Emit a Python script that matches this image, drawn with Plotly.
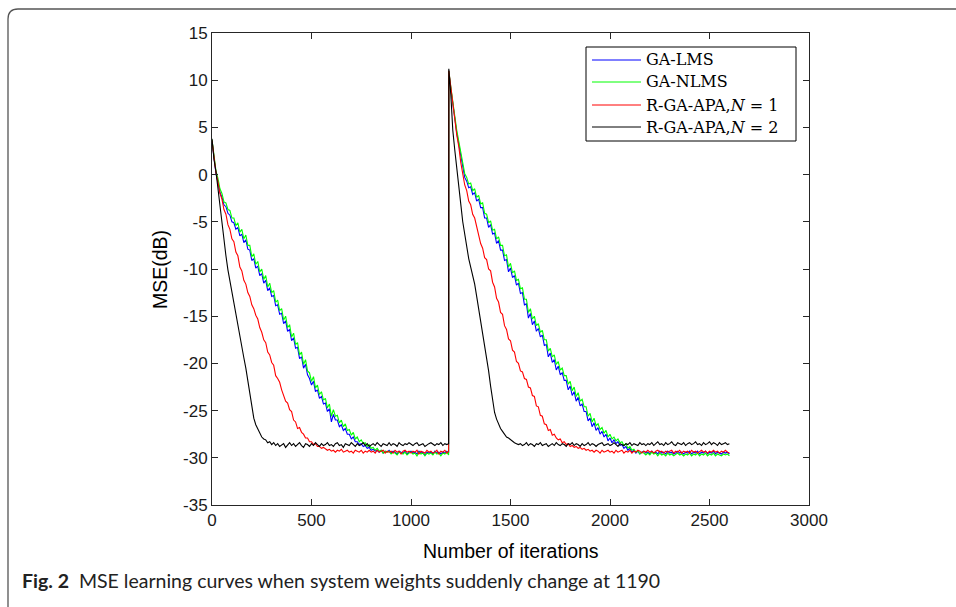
import plotly.graph_objects as go

# ---------------- data ----------------
ITER = list(range(0, 1181, 10)) + [1189] + list(range(1190, 2601, 10))

NAMES = ["GA-LMS", "GA-NLMS", "R-GA-APA,N = 1", "R-GA-APA,N = 2"]
LEGEND_LABELS = ["GA-LMS", "GA-NLMS", "R-GA-APA,<i>N</i> = 1", "R-GA-APA,<i>N</i> = 2"]
COLORS = ["#0000FF", "#00FF00", "#FF0000", "#000000"]

X_TICKS = [0, 500, 1000, 1500, 2000, 2500, 3000]
X_TICK_LABELS = ["0", "500", "1000", "1500", "2000", "2500", "3000"]
Y_TICKS = [-35, -30, -25, -20, -15, -10, -5, 0, 5, 10, 15]
Y_TICK_LABELS = ["-35", "-30", "-25", "-20", "-15", "-10", "-5", "0", "5", "10", "15"]

# GA-LMS (blue): iterations 0..1180 step 10, then 1189
LMS_A = [
    3.6, 1.7, 0.1, -0.8, -1.9, -2.4, -3.2, -3.4, -4.1, -4.3,
    -5.0, -5.1, -5.8, -5.6, -6.5, -6.3, -7.2, -6.9, -7.9, -8.0,
    -9.1, -8.9, -9.9, -9.7, -10.7, -10.5, -11.5, -11.2, -12.3, -12.0,
    -12.9, -12.8, -13.9, -13.8, -14.8, -14.7, -15.8, -15.5, -16.6, -16.4,
    -17.6, -17.3, -18.4, -18.3, -19.5, -19.3, -20.5, -20.1, -21.2, -21.6,
    -22.3, -21.9, -23.0, -22.8, -23.7, -23.5, -24.3, -24.2, -25.1, -24.8,
    -26.2, -25.4, -26.0, -26.0, -26.7, -26.5, -27.1, -26.9, -27.5, -27.5,
    -28.0, -27.8, -28.3, -28.3, -28.6, -28.5, -28.8, -28.7, -29.0, -28.9,
    -29.2, -29.1, -29.3, -29.2, -29.4, -29.2, -29.5, -29.3, -29.4, -29.2,
    -29.5, -29.3, -29.4, -29.6, -29.3, -29.4, -29.5, -29.3, -29.6, -29.4,
    -29.3, -29.5, -29.4, -29.6, -29.3, -29.5, -29.4, -29.7, -29.4, -29.5,
    -29.4, -29.6, -29.3, -29.5, -29.4, -29.6, -29.4, -29.5, -29.3, -29.5,
]
# GA-LMS (blue): iterations 1190..2600 step 10
LMS_B = [
    11.0, 9.1, 7.3, 6.0, 4.4, 3.3, 1.9, 0.9, -0.3, -0.7,
    -1.4, -1.3, -2.1, -1.9, -2.8, -2.6, -3.5, -3.5, -4.6, -4.6,
    -5.6, -5.3, -6.3, -6.2, -7.3, -7.0, -8.0, -8.0, -9.1, -9.0,
    -10.3, -9.9, -10.9, -10.7, -11.7, -11.5, -12.6, -12.5, -13.8, -13.7,
    -15.2, -14.7, -15.9, -15.5, -16.6, -16.3, -17.2, -17.0, -18.1, -18.0,
    -19.3, -18.9, -19.9, -19.6, -20.7, -20.3, -21.2, -21.0, -21.8, -21.8,
    -22.8, -22.4, -23.4, -23.0, -24.0, -23.6, -24.5, -24.3, -25.1, -25.1,
    -26.1, -25.8, -26.7, -26.3, -27.1, -26.8, -27.5, -27.2, -27.8, -27.5,
    -28.2, -27.9, -28.4, -28.1, -28.5, -28.3, -28.7, -28.6, -29.0, -28.8,
    -29.2, -29.0, -29.4, -29.2, -29.5, -29.3, -29.6, -29.4, -29.3, -29.5,
    -29.4, -29.6, -29.3, -29.5, -29.4, -29.6, -29.3, -29.5, -29.4, -29.6,
    -29.3, -29.5, -29.4, -29.6, -29.5, -29.3, -29.5, -29.4, -29.6, -29.4,
    -29.5, -29.3, -29.6, -29.4, -29.5, -29.3, -29.6, -29.4, -29.5, -29.3,
    -29.6, -29.4, -29.5, -29.3, -29.6, -29.4, -29.5, -29.6, -29.4, -29.5,
    -29.4, -29.6,
]

# GA-NLMS (green)
NLMS_A = [
    3.7, 1.9, 0.4, -0.4, -1.5, -2.0, -2.9, -3.0, -3.7, -3.8,
    -4.6, -4.6, -5.4, -5.1, -6.1, -5.8, -6.8, -6.4, -7.5, -7.5,
    -8.7, -8.4, -9.5, -9.2, -10.3, -10.0, -11.1, -10.7, -11.9, -11.5,
    -12.5, -12.3, -13.5, -13.3, -14.4, -14.2, -15.4, -15.0, -16.2, -15.9,
    -17.2, -16.8, -18.0, -17.8, -19.1, -18.8, -20.1, -19.6, -20.8, -21.0,
    -21.9, -21.4, -22.6, -22.3, -23.3, -23.0, -23.9, -23.7, -24.7, -24.3,
    -25.6, -24.9, -25.6, -25.5, -26.3, -26.0, -26.7, -26.4, -27.1, -27.0,
    -27.6, -27.3, -28.0, -27.8, -28.3, -28.1, -28.5, -28.4, -28.8, -28.6,
    -29.0, -28.9, -29.2, -29.0, -29.3, -29.2, -29.5, -29.3, -29.4, -29.3,
    -29.6, -29.4, -29.5, -29.7, -29.4, -29.5, -29.6, -29.4, -29.7, -29.5,
    -29.4, -29.6, -29.5, -29.8, -29.4, -29.6, -29.5, -29.8, -29.5, -29.6,
    -29.5, -29.7, -29.4, -29.6, -29.5, -29.8, -29.5, -29.6, -29.4, -29.7,
]
NLMS_B = [
    11.0, 9.3, 7.5, 6.2, 4.7, 3.6, 2.3, 1.2, 0.1, -0.3,
    -1.0, -0.9, -1.7, -1.5, -2.4, -2.2, -3.1, -3.0, -4.1, -4.2,
    -5.1, -4.9, -5.9, -5.8, -6.8, -6.6, -7.5, -7.5, -8.6, -8.5,
    -9.8, -9.4, -10.4, -10.2, -11.2, -11.1, -12.1, -12.0, -13.2, -13.2,
    -14.6, -14.2, -15.3, -15.0, -16.0, -15.8, -16.7, -16.5, -17.5, -17.5,
    -18.7, -18.4, -19.3, -19.1, -20.1, -19.8, -20.7, -20.5, -21.3, -21.3,
    -22.2, -21.9, -22.9, -22.5, -23.5, -23.1, -24.0, -23.8, -24.6, -24.6,
    -25.6, -25.3, -26.2, -25.8, -26.6, -26.4, -27.0, -26.8, -27.4, -27.1,
    -27.8, -27.5, -28.0, -27.8, -28.2, -28.0, -28.4, -28.3, -28.7, -28.5,
    -29.0, -28.8, -29.2, -29.1, -29.4, -29.3, -29.6, -29.4, -29.5, -29.7,
    -29.5, -29.7, -29.4, -29.6, -29.5, -29.8, -29.5, -29.7, -29.6, -29.8,
    -29.5, -29.7, -29.6, -29.8, -29.6, -29.5, -29.7, -29.6, -29.8, -29.6,
    -29.7, -29.5, -29.8, -29.6, -29.7, -29.5, -29.8, -29.6, -29.7, -29.5,
    -29.8, -29.6, -29.7, -29.5, -29.8, -29.6, -29.7, -29.8, -29.6, -29.7,
    -29.6, -29.8,
]

# R-GA-APA, N = 1 (red)
APA1_A = [
    3.6, 1.9, 0.2, -0.8, -2.0, -2.6, -3.7, -4.2, -5.3, -5.8,
    -6.8, -7.1, -8.2, -8.6, -9.8, -10.2, -11.2, -11.6, -12.5, -12.9,
    -13.8, -14.2, -14.9, -15.3, -16.2, -16.7, -17.5, -17.8, -18.8, -19.1,
    -19.9, -20.2, -21.3, -21.6, -22.0, -22.8, -23.3, -24.0, -24.2, -24.9,
    -25.1, -26.0, -26.2, -26.9, -26.8, -27.3, -27.5, -27.9, -27.9, -28.3,
    -28.3, -28.6, -28.5, -28.8, -28.8, -29.0, -28.9, -29.1, -29.2, -29.1,
    -29.3, -29.2, -29.4, -29.2, -29.3, -29.1, -29.4, -29.3, -29.2, -29.4,
    -29.3, -29.5, -29.2, -29.3, -29.4, -29.2, -29.5, -29.3, -29.4, -29.2,
    -29.4, -29.3, -29.5, -29.2, -29.4, -29.3, -29.2, -29.5, -29.3, -29.4,
    -29.3, -29.5, -29.2, -29.4, -29.3, -29.6, -29.3, -29.2, -29.4, -29.3,
    -29.5, -29.3, -29.4, -29.2, -29.6, -29.3, -29.4, -29.5, -29.2, -29.4,
    -29.3, -29.5, -29.4, -29.2, -29.6, -29.3, -29.4, -29.2, -29.5, -29.3,
]
APA1_B = [
    11.0, 9.2, 7.1, 5.9, 4.2, 3.0, 1.3, 0.1, -1.1, -1.7,
    -2.8, -3.2, -4.2, -4.6, -5.5, -6.1, -7.3, -7.8, -8.8, -9.0,
    -10.0, -10.2, -11.4, -11.9, -13.1, -13.5, -14.6, -14.8, -16.0, -16.4,
    -17.4, -17.6, -18.6, -18.8, -19.8, -20.0, -20.8, -20.9, -21.6, -21.7,
    -22.5, -22.6, -23.4, -23.5, -24.5, -24.6, -25.5, -25.6, -26.4, -26.5,
    -27.1, -27.0, -27.6, -27.5, -27.9, -28.1, -28.0, -28.4, -28.3, -28.6,
    -28.5, -28.8, -28.7, -28.9, -28.8, -29.0, -28.9, -29.1, -29.0, -29.2,
    -29.1, -29.3, -29.2, -29.4, -29.2, -29.3, -29.5, -29.2, -29.4, -29.3,
    -29.2, -29.4, -29.3, -29.5, -29.2, -29.4, -29.3, -29.2, -29.5, -29.3,
    -29.4, -29.2, -29.5, -29.3, -29.4, -29.2, -29.3, -29.5, -29.3, -29.4,
    -29.2, -29.4, -29.3, -29.5, -29.3, -29.2, -29.4, -29.3, -29.5, -29.3,
    -29.4, -29.3, -29.2, -29.5, -29.3, -29.4, -29.2, -29.5, -29.3, -29.4,
    -29.3, -29.5, -29.2, -29.4, -29.3, -29.5, -29.3, -29.2, -29.4, -29.3,
    -29.5, -29.3, -29.4, -29.2, -29.4, -29.3, -29.5, -29.3, -29.4, -29.2,
    -29.4, -29.5,
]

# R-GA-APA, N = 2 (black)
APA2_A = [
    3.8, 1.6, 0.3, -1.6, -3.4, -5.2, -6.9, -8.6, -10.1, -11.3,
    -12.6, -13.8, -15.0, -16.1, -17.3, -18.5, -19.4, -20.5, -21.9, -23.3,
    -24.7, -25.8, -26.5, -26.9, -27.4, -27.8, -28.0, -28.1, -28.4, -28.3,
    -28.6, -28.4, -28.7, -28.5, -28.8, -28.6, -28.5, -28.9, -28.6, -28.4,
    -28.7, -28.5, -28.8, -28.6, -28.4, -28.7, -28.9, -28.5, -28.6, -28.8,
    -28.5, -28.7, -28.4, -28.6, -28.8, -28.5, -28.7, -28.6, -28.4, -28.7,
    -28.6, -28.8, -28.5, -28.4, -28.7, -28.6, -28.9, -28.5, -28.6, -28.7,
    -28.4, -28.6, -28.8, -28.5, -28.7, -28.6, -28.4, -28.7, -28.5, -28.8,
    -28.6, -28.5, -28.7, -28.4, -28.6, -28.8, -28.5, -28.6, -28.7, -28.4,
    -28.7, -28.5, -28.6, -28.8, -28.4, -28.6, -28.7, -28.5, -28.6, -28.4,
    -28.6, -28.7, -28.5, -28.4, -28.7, -28.6, -28.5, -28.8, -28.6, -28.5,
    -28.4, -28.6, -28.7, -28.5, -28.6, -28.4, -28.7, -28.5, -28.6, -28.5,
]
APA2_B = [
    11.2, 8.5, 4.7, 2.6, 0.9, -0.9, -3.1, -5.0, -6.4, -7.6,
    -8.9, -9.8, -10.6, -11.6, -12.9, -14.2, -15.3, -16.6, -18.0, -19.4,
    -20.8, -22.4, -24.0, -25.2, -25.9, -26.5, -26.9, -27.2, -27.5, -27.8,
    -27.9, -28.1, -28.2, -28.4, -28.5, -28.6, -28.5, -28.7, -28.6, -28.4,
    -28.7, -28.5, -28.6, -28.8, -28.5, -28.6, -28.4, -28.7, -28.6, -28.5,
    -28.8, -28.6, -28.5, -28.7, -28.4, -28.6, -28.7, -28.5, -28.6, -28.8,
    -28.5, -28.6, -28.4, -28.7, -28.5, -28.6, -28.8, -28.5, -28.7, -28.6,
    -28.4, -28.7, -28.5, -28.6, -28.8, -28.6, -28.5, -28.4, -28.7, -28.6,
    -28.5, -28.7, -28.6, -28.4, -28.6, -28.8, -28.5, -28.6, -28.7, -28.5,
    -28.6, -28.4, -28.7, -28.5, -28.6, -28.7, -28.4, -28.6, -28.5, -28.7,
    -28.5, -28.6, -28.4, -28.7, -28.5, -28.3, -28.6, -28.5, -28.7, -28.4,
    -28.6, -28.5, -28.3, -28.6, -28.7, -28.4, -28.5, -28.6, -28.4, -28.7,
    -28.5, -28.4, -28.6, -28.5, -28.3, -28.6, -28.5, -28.7, -28.4, -28.6,
    -28.5, -28.3, -28.6, -28.4, -28.5, -28.7, -28.4, -28.6, -28.5, -28.4,
    -28.6, -28.5,
]

SERIES = [LMS_A + LMS_B, NLMS_A + NLMS_B, APA1_A + APA1_B, APA2_A + APA2_B]
for s in SERIES:
    assert len(s) == len(ITER), (len(s), len(ITER))

# ---------------- layout geometry (pixels) ----------------
W, H = 956, 607
PL, PR, PT, PB = 212, 809, 33, 505   # plot area edges
PW, PH = PR - PL, PB - PT


def px(x):
    return (x - PL) / PW


def py(y):
    return (PB - y) / PH


fig = go.Figure()
for name, col, ys in zip(NAMES, COLORS, SERIES):
    fig.add_trace(go.Scatter(x=ITER, y=ys, mode="lines", name=name,
                             line=dict(color=col, width=1.1), showlegend=False))

AX_COL = "#262626"
SANS = "Liberation Sans, Arial, sans-serif"
TICK_FONT = dict(family=SANS, size=17, color="#1a1a1a")

fig.update_xaxes(range=[0, 3000], tickvals=X_TICKS, ticktext=X_TICK_LABELS,
                 ticks="inside", ticklen=6, tickcolor=AX_COL, showline=True,
                 linecolor=AX_COL, linewidth=1, mirror="ticks", showgrid=False,
                 zeroline=False, tickfont=TICK_FONT)
fig.update_yaxes(range=[-35, 15], tickvals=Y_TICKS, ticktext=Y_TICK_LABELS,
                 ticks="inside", ticklen=6, tickcolor=AX_COL, showline=True,
                 linecolor=AX_COL, linewidth=1, mirror="ticks", showgrid=False,
                 zeroline=False, tickfont=TICK_FONT)

shapes = []
annotations = []

# figure frame with rounded top-left corner
x0, y0, r = 8, 9, 10
frame_path = (f"M {px(x0)},{py(612)} L {px(x0)},{py(y0 + r)} "
              f"Q {px(x0)},{py(y0)} {px(x0 + r)},{py(y0)} L {px(962)},{py(y0)}")
shapes.append(dict(type="path", xref="paper", yref="paper", path=frame_path,
                   line=dict(color="#555555", width=1.3)))

# legend box
LB_L, LB_R, LB_T, LB_B = 586, 796, 47, 141
shapes.append(dict(type="rect", xref="paper", yref="paper",
                   x0=px(LB_L), x1=px(LB_R), y0=py(LB_B), y1=py(LB_T),
                   line=dict(color="#000000", width=1), fillcolor="white", layer="above"))
ROWS = [60, 82, 105, 127]
for lab, col, ry in zip(LEGEND_LABELS, COLORS, ROWS):
    shapes.append(dict(type="line", xref="paper", yref="paper",
                       x0=px(592), x1=px(641), y0=py(ry), y1=py(ry),
                       line=dict(color=col, width=1), layer="above"))
    annotations.append(dict(text=lab, xref="paper", yref="paper", x=px(644), y=py(ry),
                            xanchor="left", yanchor="middle", showarrow=False,
                            font=dict(family="DejaVu Serif, serif", size=16, color="#000000")))

# axis titles
annotations.append(dict(text="Number of iterations", xref="paper", yref="paper",
                        x=0.5, y=py(551), xanchor="center", yanchor="middle", showarrow=False,
                        font=dict(family=SANS, size=19.5, color="#000000")))
annotations.append(dict(text="MSE(dB)", xref="paper", yref="paper", textangle=-90,
                        x=px(160), y=py(270), xanchor="center", yanchor="middle", showarrow=False,
                        font=dict(family=SANS, size=19.5, color="#000000")))

# caption
annotations.append(dict(text="<b>Fig. 2</b>  MSE learning curves when system weights suddenly change at 1190",
                        xref="paper", yref="paper", x=px(20), y=py(580),
                        xanchor="left", yanchor="middle", showarrow=False,
                        font=dict(family="Lato, sans-serif", size=19.5, color="#222222")))

fig.update_layout(width=W, height=H, margin=dict(l=PL, r=W - PR, t=PT, b=H - PB),
                  paper_bgcolor="white", plot_bgcolor="white",
                  shapes=shapes, annotations=annotations, showlegend=False)

fig.write_html("out.html", config={"displayModeBar": False},
               post_script="document.body.style.margin='0';")
